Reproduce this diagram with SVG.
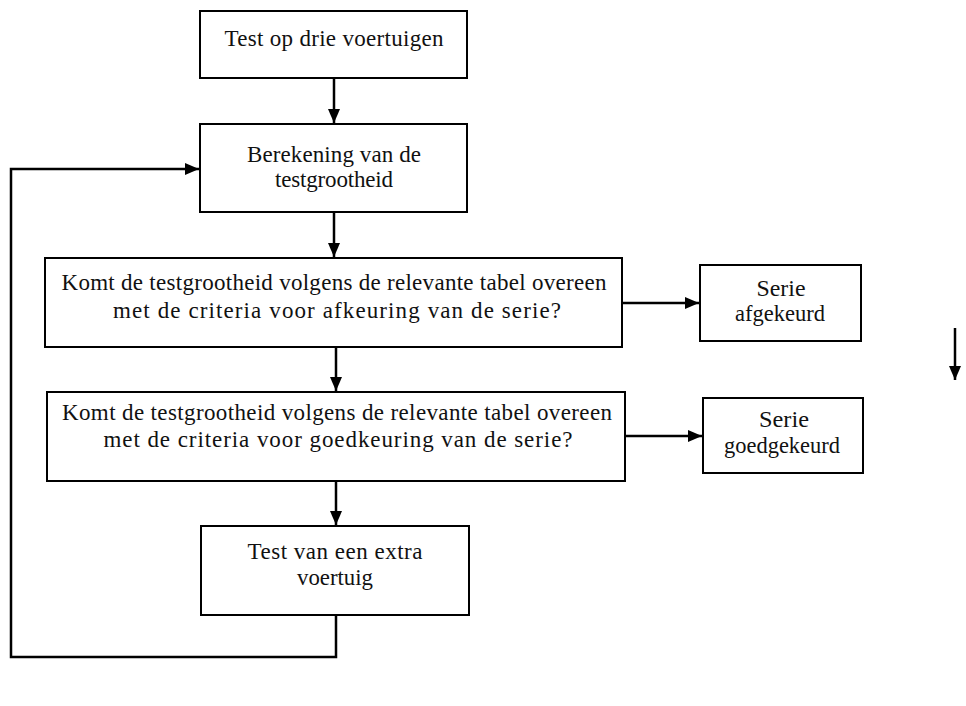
<svg xmlns="http://www.w3.org/2000/svg" width="966" height="706" viewBox="0 0 966 706">
<defs>
<style>
.box{fill:#fff;stroke:#000;stroke-width:2}
.t{font-family:"Liberation Serif",serif;font-size:23px;fill:#111;text-anchor:middle}
.c{fill:none;stroke:#000;stroke-width:2.5}
</style>
<marker id="ah" markerWidth="14" markerHeight="14" viewBox="0 0 14 14" refX="14" refY="7" orient="auto" markerUnits="userSpaceOnUse">
<path d="M0,1 L14,7 L0,13 Z" fill="#000"/>
</marker>
</defs>
<rect width="966" height="706" fill="#fff"/>
<g id="connectors">
<path class="c" d="M334,78 V123" marker-end="url(#ah)"/>
<path class="c" d="M334,212 V257" marker-end="url(#ah)"/>
<path class="c" d="M336,347 V391" marker-end="url(#ah)"/>
<path class="c" d="M336,481 V525" marker-end="url(#ah)"/>
<path class="c" d="M622,303 H699" marker-end="url(#ah)"/>
<path class="c" d="M625,436 H702" marker-end="url(#ah)"/>
<path class="c" d="M336,615 V657 H11 V169 H199" marker-end="url(#ah)"/>
<path class="c" d="M955,328 V380" marker-end="url(#ah)"/>
</g>
<g id="n1">
<rect class="box" x="200" y="11" width="267" height="67"/>
<text class="t" x="334" y="46" textLength="219" lengthAdjust="spacing">Test op drie voertuigen</text>
</g>
<g id="n2">
<rect class="box" x="200" y="124" width="267" height="88"/>
<text class="t" x="334" y="162" textLength="174" lengthAdjust="spacing">Berekening van de</text>
<text class="t" x="334" y="187" textLength="118" lengthAdjust="spacing">testgrootheid</text>
</g>
<g id="n3">
<rect class="box" x="45" y="258" width="577" height="89"/>
<text class="t" x="334" y="290" textLength="545" lengthAdjust="spacing">Komt de testgrootheid volgens de relevante tabel overeen</text>
<text class="t" x="337" y="318" textLength="448" lengthAdjust="spacing">met de criteria voor afkeuring van de serie?</text>
</g>
<g id="n4">
<rect class="box" x="47" y="392" width="578" height="89"/>
<text class="t" x="337" y="420" textLength="550" lengthAdjust="spacing">Komt de testgrootheid volgens de relevante tabel overeen</text>
<text class="t" x="338" y="447" textLength="469" lengthAdjust="spacing">met de criteria voor goedkeuring van de serie?</text>
</g>
<g id="n5">
<rect class="box" x="201" y="526" width="268" height="89"/>
<text class="t" x="335" y="559" textLength="175" lengthAdjust="spacing">Test van een extra</text>
<text class="t" x="335" y="585" textLength="76" lengthAdjust="spacingAndGlyphs">voertuig</text>
</g>
<g id="n6">
<rect class="box" x="700" y="265" width="161" height="76"/>
<text class="t" x="781" y="296" textLength="49" lengthAdjust="spacingAndGlyphs">Serie</text>
<text class="t" x="780" y="321" textLength="90" lengthAdjust="spacingAndGlyphs">afgekeurd</text>
</g>
<g id="n7">
<rect class="box" x="703" y="398" width="160" height="75"/>
<text class="t" x="784" y="427" textLength="50" lengthAdjust="spacingAndGlyphs">Serie</text>
<text class="t" x="782" y="453" textLength="116" lengthAdjust="spacingAndGlyphs">goedgekeurd</text>
</g>
</svg>
